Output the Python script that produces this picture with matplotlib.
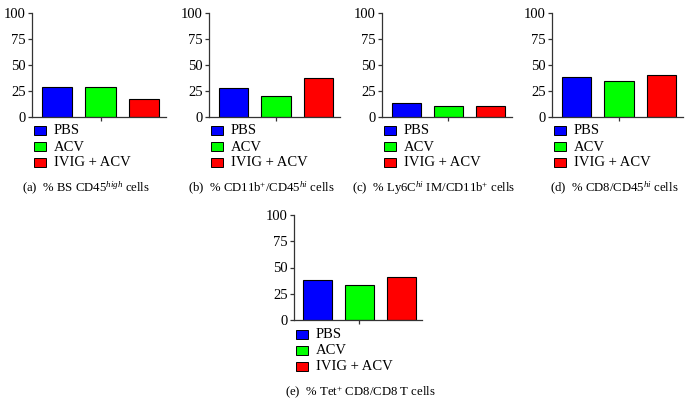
import matplotlib
matplotlib.use("Agg")
import matplotlib.pyplot as plt
from matplotlib.patches import Rectangle

plt.rcParams['font.family'] = ['Liberation Serif', 'DejaVu Serif']
plt.rcParams['mathtext.fontset'] = 'custom'
plt.rcParams['mathtext.rm'] = 'Liberation Serif'
plt.rcParams['mathtext.it'] = 'Liberation Serif:italic'

groups = ["PBS", "ACV", "IVIG + ACV"]
colors = ["#0000FF", "#00FF00", "#FF0000"]
yticks = [0, 25, 50, 75, 100]

vals_a = [29.3, 28.8, 17.5]
vals_b = [28.3, 20.0, 37.9]
vals_c = [13.7, 10.2, 10.2]
vals_d = [38.5, 34.7, 40.1]
vals_e = [38.0, 32.9, 40.9]

captions = [
    r"(a)  % BS CD45$^{\mathit{high}}$ cells",
    r"(b)  % CD11b$^{+}$/CD45$^{\mathit{hi}}$ cells",
    r"(c)  % Ly6C$^{\mathit{hi}}$ IM/CD11b$^{+}$ cells",
    r"(d)  % CD8/CD45$^{\mathit{hi}}$ cells",
    r"(e)  % Tet$^{+}$ CD8/CD8 T cells",
]

W, H = 692, 419
fig = plt.figure(figsize=(W / 100, H / 100), dpi=100)

# (x0, x1, ytop, ybottom, caption_center_x, caption_y) in pixels
layout = [
    (32, 166, 13, 117, 86, 188),
    (209, 340, 13, 117, 261, 188),
    (382, 512, 13, 117, 434, 188),
    (552, 683, 13, 117, 614, 188),
    (294, 422, 215, 320, 360, 393),
]
data = [vals_a, vals_b, vals_c, vals_d, vals_e]

for vals, (x0, x1, yt, yb, cx, cy), cap in zip(data, layout, captions):
    ax = fig.add_axes([x0 / W, 1 - yb / H, (x1 - x0) / W, (yb - yt) / H])
    ax.bar(range(3), vals, width=0.69, color=colors, edgecolor="black", linewidth=0.8)
    ax.set_xlim(-0.57, 2.5)
    ax.set_ylim(0, 100)
    ax.set_yticks(yticks)
    ax.set_xticks([1])
    ax.set_xticklabels([""])
    for s in ["top", "right"]:
        ax.spines[s].set_visible(False)
    for s in ["left", "bottom"]:
        ax.spines[s].set_color("#333333")
        ax.spines[s].set_linewidth(0.9)
    ax.tick_params(axis="both", direction="out", length=3, width=0.9, color="#333333",
                   labelsize=10.5, pad=1.5)
    # legend
    lx = x0 + 2
    for i, (g, c) in enumerate(zip(groups, colors)):
        ry = yb + 14 + i * 16
        fig.patches.append(Rectangle((lx / W, 1 - (ry + 4.5) / H), 12 / W, 9 / H,
                                     transform=fig.transFigure, facecolor=c,
                                     edgecolor="black", linewidth=0.7))
        fig.text((lx + 20) / W, 1 - ry / H, g, fontsize=10.5, va="center", ha="left")
    fig.text(cx / W, 1 - cy / H, cap, fontsize=9.2, ha="center", va="center")

fig.savefig("out.png", dpi=100)
